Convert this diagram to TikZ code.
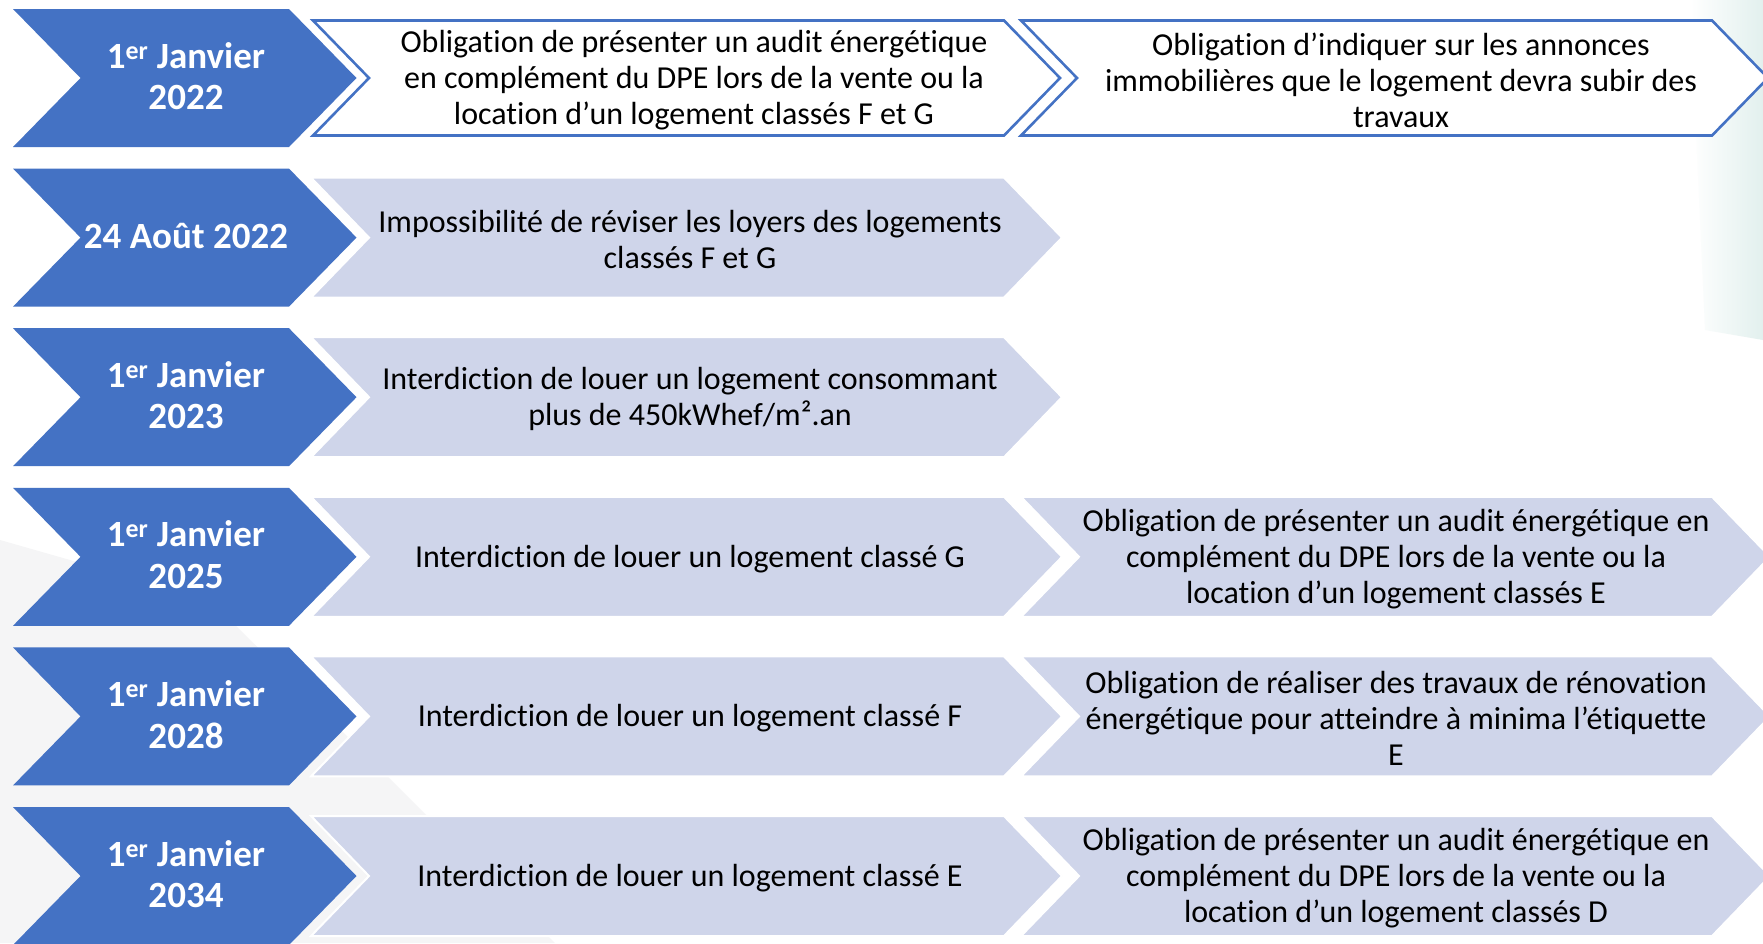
\documentclass[tikz,border=0pt]{standalone}
\usepackage{fontspec}
\setmainfont{Carlito}[Ligatures=NoCommon,RawFeature={-liga;-clig}]
\definecolor{accblue}{HTML}{4472C4}
\definecolor{lightcell}{HTML}{CFD5EA}
\definecolor{bgteal}{HTML}{E2F0EE}
\definecolor{bggray}{HTML}{F5F5F6}
\newcommand\chevpoly[6]{\path[#1] ({#2},{#4-#5}) -- ({#3},{#4-#5}) -- ({#3+#6},{#4}) -- ({#3},{#4+#5}) -- ({#2},{#4+#5}) -- ({#2+#6},{#4}) -- cycle;}
\begin{document}
\begin{tikzpicture}[x=1pt,y=-1pt,
  datebox/.style={fill=accblue},
  cellbox/.style={fill=lightcell, draw=white, line width=2pt},
  outbox/.style={fill=white, draw=accblue, line width=2.6pt, line join=miter},
  datetext/.style={text=white, font=\fontsize{37}{41.6}\selectfont\bfseries, align=center, inner sep=0pt, yshift=2pt},
  celltext/.style={text=black, font=\fontsize{32}{36}\selectfont, align=center, inner sep=0pt, yshift=-2pt}]
\useasboundingbox (0,0) rectangle (1763,943);
\fill[white] (0,0) rectangle (1763,943);
% faint background decorations
\fill[bggray] (0,540) -- (210,600) -- (555,943) -- (0,943) -- cycle;
\shade[left color=white, right color=bgteal] (1690,0) -- (1763,0) -- (1763,340) -- (1705,330) -- cycle;
\begin{scope}
\clip (0,0) rectangle (1763,943);
% row 1
\chevpoly{datebox}{13}{289}{78}{69}{67.5}
\chevpoly{outbox}{313}{1004}{78}{57.5}{56}
\chevpoly{outbox}{1021}{1712}{78}{57.5}{56}
% row 2
\chevpoly{datebox}{13}{289}{237.6}{69}{67.5}
\chevpoly{cellbox}{311}{1004}{237.6}{60}{58}
% row 3
\chevpoly{datebox}{13}{289}{397.2}{69}{67.5}
\chevpoly{cellbox}{311}{1004}{397.2}{60}{58}
% row 4
\chevpoly{datebox}{13}{289}{556.8}{69}{67.5}
\chevpoly{cellbox}{311}{1004}{556.8}{60}{58}
\chevpoly{cellbox}{1021}{1712}{556.8}{60}{58}
% row 5
\chevpoly{datebox}{13}{289}{716.4}{69}{67.5}
\chevpoly{cellbox}{311}{1004}{716.4}{60}{58}
\chevpoly{cellbox}{1021}{1712}{716.4}{60}{58}
% row 6
\chevpoly{datebox}{13}{289}{876}{69}{67.5}
\chevpoly{cellbox}{311}{1004}{876}{60}{58}
\chevpoly{cellbox}{1021}{1712}{876}{60}{58}
\end{scope}
% texts
\node[datetext] (d1) at (186,78) {1\textsuperscript{er} Janvier\\2022};
\node[datetext] (d2) at (186,237.6) {24 Août 2022};
\node[datetext] (d3) at (186,397.2) {1\textsuperscript{er} Janvier\\2023};
\node[datetext] (d4) at (186,556.8) {1\textsuperscript{er} Janvier\\2025};
\node[datetext] (d5) at (186,716.4) {1\textsuperscript{er} Janvier\\2028};
\node[datetext] (d6) at (186,876) {1\textsuperscript{er} Janvier\\2034};
\node[celltext] (a1) at (694,78) {Obligation de présenter un audit énergétique\\en complément du DPE lors de la vente ou la\\location d’un logement classés F et G};
\node[celltext] (b1) at (1401,78) {Obligation d’indiquer sur les annonces\\immobilières que le logement devra subir des\\travaux};
\node[celltext] (a2) at (690,237.6) {Impossibilité de réviser les loyers des logements\\classés F et G};
\node[celltext] (a3) at (690,397.2) {Interdiction de louer un logement consommant\\plus de 450kWhef/m².an};
\node[celltext] (a4) at (690,556.8) {Interdiction de louer un logement classé G};
\node[celltext] (b4) at (1396,556.8) {Obligation de présenter un audit énergétique en\\complément du DPE lors de la vente ou la\\location d’un logement classés E};
\node[celltext] (a5) at (690,716.4) {Interdiction de louer un logement classé F};
\node[celltext] (b5) at (1396,716.4) {Obligation de réaliser des travaux de rénovation\\énergétique pour atteindre à minima l’étiquette\\E};
\node[celltext] (a6) at (690,876) {Interdiction de louer un logement classé E};
\node[celltext] (b6) at (1396,876) {Obligation de présenter un audit énergétique en\\complément du DPE lors de la vente ou la\\location d’un logement classés D};
\end{tikzpicture}
\end{document}
